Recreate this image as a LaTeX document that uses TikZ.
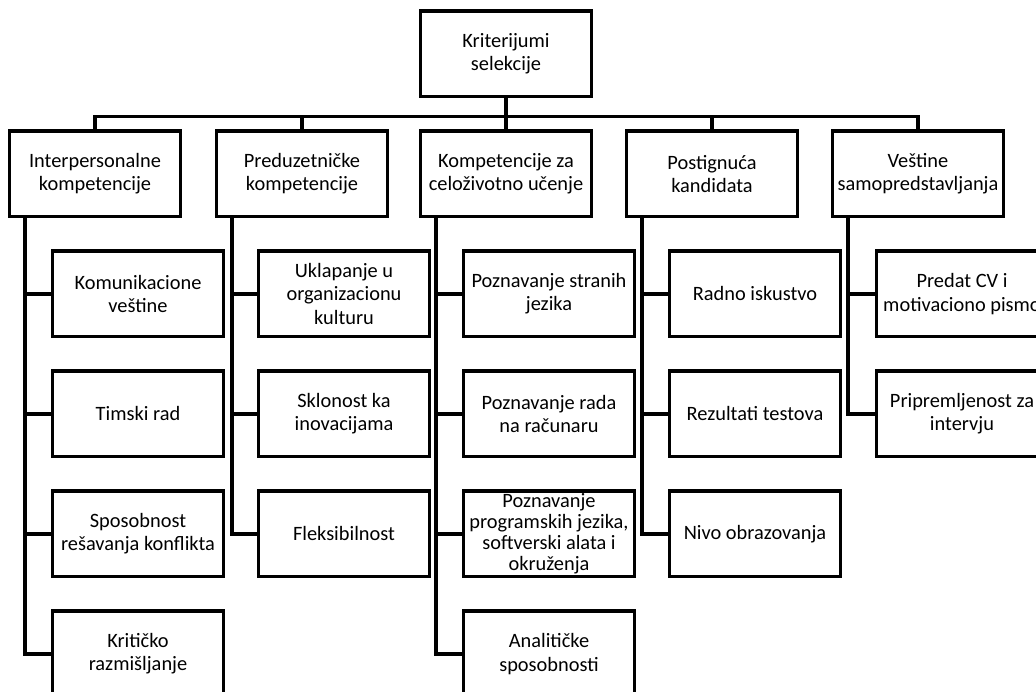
\documentclass[tikz,border=0pt]{standalone}
\usepackage{fontspec}
\setmainfont{Carlito}
\usetikzlibrary{positioning}

\begin{document}
\begin{tikzpicture}
    [x=0.02cm, y=-0.02cm, line width=2pt,
    every node/.style = {shape=rectangle, draw, align=center, inner sep=0pt,
        minimum width=3.42cm, minimum height=1.71cm,
        font=\fontsize{11.6}{13.2}\selectfont}]

    \path[use as bounding box, clip] (0,0) rectangle (1036,692);

    % vrh
    \node (krit) at (506,54) {Kriterijumi\\ selekcije};

    % prvi nivo
    \node (inter)  at (95,174)  {Interpersonalne\\ kompetencije};
    \node (predu)  at (302,174) {Preduzetničke\\ kompetencije};
    \node (celo)   at (506,174) {Kompetencije za\\ celoživotno učenje};
    \node (postig) at (712,174) {Postignuća\\ kandidata};
    \node (samo)   at (918,174) {Veštine\\ samopredstavljanja};

    % drugi nivo
    \node (komun)  at (138,294) {Komunikacione\\ veštine};
    \node (tim)    at (138,414) {Timski rad};
    \node (konfl)  at (138,534) {Sposobnost\\ rešavanja konflikta};
    \node (krrazm) at (138,654) {Kritičko\\ razmišljanje};

    \node (uklap)  at (344,294) {Uklapanje u\\ organizacionu\\ kulturu};
    \node (inov)   at (344,414) {Sklonost ka\\ inovacijama};
    \node (fleks)  at (344,534) {Fleksibilnost};

    \node (jezik)  at (549,294) {Poznavanje stranih\\ jezika};
    \node (racun)  at (549,414) {Poznavanje rada\\ na računaru};
    \node (progr)  at (549,534) [font=\fontsize{11.6}{12}\selectfont]
        {Poznavanje\\ programskih jezika,\\ softverski alata i\\ okruženja};
    \node (anal)   at (549,654) {Analitičke\\ sposobnosti};

    \node (radno)  at (755,294) {Radno iskustvo};
    \node (test)   at (755,414) {Rezultati testova};
    \node (obraz)  at (755,534) {Nivo obrazovanja};

    \node (cv)     at (962,294) {Predat CV i\\ motivaciono pismo};
    \node (interv) at (962,414) {Pripremljenost za\\ intervju};

    % veze
    \foreach \p in {inter,predu,celo,postig,samo}
        \draw (krit.south) -- ++(0,18) -| (\p.north);

    \foreach \c/\p in {komun/inter, tim/inter, konfl/inter, krrazm/inter,
                       uklap/predu, inov/predu, fleks/predu,
                       jezik/celo, racun/celo, progr/celo, anal/celo,
                       radno/postig, test/postig, obraz/postig,
                       cv/samo, interv/samo}
        \draw (\p.south west) ++(17,0) |- (\c.west);
\end{tikzpicture}
\end{document}
